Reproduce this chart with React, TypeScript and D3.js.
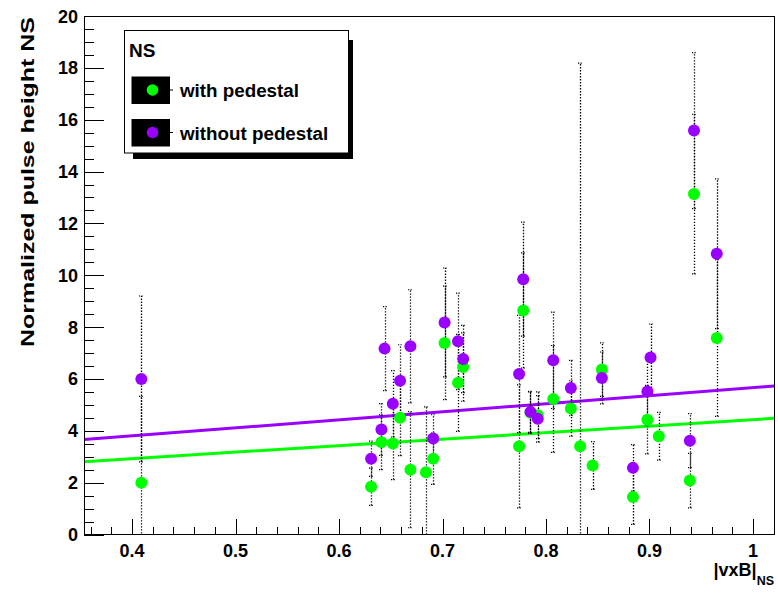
import React from "react";
import * as d3 from "d3";

// ---- data ----
const seriesNames = ["with pedestal", "without pedestal"];
const seriesColors = ["#00ff00", "#9900ff"];

const withPedX = [0.409, 0.631, 0.641, 0.652, 0.659, 0.669, 0.684, 0.691, 0.702, 0.715, 0.720, 0.774, 0.778, 0.785, 0.792, 0.807, 0.824, 0.833, 0.845, 0.854, 0.884, 0.898, 0.909, 0.939, 0.943, 0.965];
const withPedY = [2.0, 1.84, 3.56, 3.51, 4.5, 2.5, 2.4, 2.92, 7.39, 5.85, 6.46, 3.4, 8.64, 4.7, 4.6, 5.23, 4.86, 3.4, 2.66, 6.36, 1.45, 4.43, 3.79, 2.08, 13.13, 7.58];
const withPedErr = [3.33, 0.72, 1.06, 1.39, 1.46, 2.24, 2.52, 0.99, 2.19, 1.87, 1.32, 2.37, 2.22, 0.8, 0.9, 2.06, 1.07, 14.78, 0.92, 1.03, 1.06, 1.32, 0.92, 1.05, 3.08, 3.02];

const noPedX = [0.409, 0.631, 0.641, 0.644, 0.652, 0.659, 0.669, 0.691, 0.702, 0.715, 0.720, 0.774, 0.778, 0.785, 0.792, 0.807, 0.824, 0.854, 0.884, 0.898, 0.901, 0.939, 0.943, 0.965];
const noPedY = [6.0, 2.92, 4.05, 7.17, 5.04, 5.93, 7.26, 3.7, 8.18, 7.45, 6.77, 6.19, 9.85, 4.73, 4.46, 6.72, 5.65, 6.04, 2.57, 5.52, 6.83, 3.62, 15.58, 10.83];
const noPedErr = [3.2, 0.68, 1.0, 1.62, 1.28, 1.39, 2.18, 0.92, 2.1, 1.86, 1.3, 2.26, 2.2, 0.79, 0.9, 1.86, 1.07, 1.0, 0.9, 1.3, 1.29, 1.04, 3.01, 2.89];

// linear fits: value at left and right edge of the x range
const fitWithPed = [2.81, 4.48];
const fitNoPed = [3.66, 5.73];

const xDomain = [0.3536, 1.0203];
const yDomain = [0, 20];
const xTickValues = [0.4, 0.5, 0.6, 0.7, 0.8, 0.9, 1.0];
const xTickLabels = ["0.4", "0.5", "0.6", "0.7", "0.8", "0.9", "1"];
const yTickValues = [0, 2, 4, 6, 8, 10, 12, 14, 16, 18, 20];
const yTickLabels = ["0", "2", "4", "6", "8", "10", "12", "14", "16", "18", "20"];

const legendTitle = "NS";
const yTitle = "Normalized pulse height NS";
const xTitleMain = "|vxB|";
const xTitleSub = "NS";

const FONT = "'Liberation Sans', Arial, Helvetica, sans-serif";

export default function App() {
  const L = 84, R = 774, T = 16, B = 534.5;
  const x = d3.scaleLinear().domain(xDomain).range([L, R]);
  const y = d3.scaleLinear().domain(yDomain).range([B, T]);

  const xMinor = d3.range(0.36, 1.0201, 0.02).filter((v) => v >= xDomain[0] && v <= xDomain[1]);
  const yMinor = d3.range(0, 20.001, 0.5);

  const series = [
    { xs: withPedX, ys: withPedY, es: withPedErr, color: seriesColors[0], fit: fitWithPed },
    { xs: noPedX, ys: noPedY, es: noPedErr, color: seriesColors[1], fit: fitNoPed },
  ];

  const line = d3.line<[number, number]>().x((d) => x(d[0])).y((d) => y(d[1]));
  const dash = "1.3,1.7";

  return (
    <svg width={778} height={594} style={{ position: "absolute", left: 0, top: 0, background: "#fff" }}>
      <rect x={0} y={0} width={778} height={594} fill="#fff" />
      <defs>
        <clipPath id="frame">
          <rect x={L} y={T} width={R - L} height={B - T} />
        </clipPath>
      </defs>

      {/* fit lines */}
      <g clipPath="url(#frame)">
        {series.map((s, i) => (
          <path key={"fit" + i} d={line([[xDomain[0], s.fit[0]], [xDomain[1], s.fit[1]]]) || ""} stroke={s.color} strokeWidth={3} fill="none" />
        ))}
      </g>

      {/* error bars + markers */}
      <g clipPath="url(#frame)">
        {series.map((s, si) => (
          <g key={"s" + si}>
            {s.xs.map((xv, i) => {
              const lo = s.ys[i] - s.es[i];
              const hi = s.ys[i] + s.es[i];
              const cx = Math.round(x(xv)) + 0.5;
              return (
                <g key={i}>
                  <line x1={cx} x2={cx} y1={y(Math.max(lo, -1))} y2={y(Math.min(hi, 21))} stroke="#000" strokeWidth={1.3} strokeDasharray={dash} />
                  <line x1={cx - 2.5} x2={cx + 2.5} y1={y(hi)} y2={y(hi)} stroke="#000" strokeWidth={1.2} strokeDasharray="1.2,1.3" />
                  <line x1={cx - 2.5} x2={cx + 2.5} y1={y(lo)} y2={y(lo)} stroke="#000" strokeWidth={1.2} strokeDasharray="1.2,1.3" />
                </g>
              );
            })}
          </g>
        ))}
        {series.map((s, si) => (
          <g key={"m" + si}>
            {s.xs.map((xv, i) => (
              <circle key={i} cx={x(xv)} cy={y(s.ys[i])} r={6} fill={s.color} />
            ))}
          </g>
        ))}
      </g>

      {/* frame */}
      <rect x={L + 0.5} y={T + 0.5} width={R - L - 0.5} height={B - T - 0.5} fill="none" stroke="#000" strokeWidth={1} shapeRendering="crispEdges" />
      <line x1={L + 0.5} x2={L + 0.5} y1={T} y2={B + 1} stroke="#000" strokeWidth={1.5} shapeRendering="crispEdges" />
      <line x1={L} x2={R} y1={B} y2={B} stroke="#000" strokeWidth={1.5} shapeRendering="crispEdges" />

      {/* ticks */}
      <g shapeRendering="crispEdges" stroke="#000" strokeWidth={1}>
        {xMinor.map((v, i) => (
          <line key={"xm" + i} x1={Math.round(x(v)) + 0.5} x2={Math.round(x(v)) + 0.5} y1={B} y2={B - 8} />
        ))}
        {xTickValues.map((v, i) => (
          <line key={"xM" + i} x1={Math.round(x(v)) + 0.5} x2={Math.round(x(v)) + 0.5} y1={B} y2={B - 16} />
        ))}
        {yMinor.map((v, i) => (
          <line key={"ym" + i} x1={L} x2={L + 10} y1={Math.round(y(v)) + 0.5} y2={Math.round(y(v)) + 0.5} />
        ))}
        {yTickValues.map((v, i) => (
          <line key={"yM" + i} x1={L} x2={L + 20} y1={Math.round(y(v)) + 0.5} y2={Math.round(y(v)) + 0.5} />
        ))}
      </g>

      {/* tick labels */}
      <g fontFamily={FONT} fontWeight="bold" fontSize={18} fill="#000">
        {xTickValues.map((v, i) => (
          <text key={"xl" + i} x={x(v)} y={557} textAnchor="middle">{xTickLabels[i]}</text>
        ))}
        {yTickValues.map((v, i) => (
          <text key={"yl" + i} x={78} y={y(v) + 6.5} textAnchor="end">{yTickLabels[i]}</text>
        ))}
      </g>

      {/* axis titles */}
      <text fontFamily={FONT} fontWeight="bold" fontSize={17.7} transform="translate(34,182) rotate(-90)" textAnchor="middle" textLength={330} lengthAdjust="spacingAndGlyphs">{yTitle}</text>
      <text fontFamily={FONT} fontWeight="bold" fill="#000" x={774} y={576} textAnchor="end">
        <tspan fontSize={18}>{xTitleMain}</tspan>
        <tspan fontSize={12.5} dy={9}>{xTitleSub}</tspan>
      </text>

      {/* legend */}
      <g>
        <rect x={133} y={40} width={220} height={119} fill="#000" />
        <rect x={124.5} y={30.5} width={224} height={122.5} fill="#fff" stroke="#000" strokeWidth={1} />
        <text x={129} y={57} fontFamily={FONT} fontWeight="bold" fontSize={19}>{legendTitle}</text>
        {seriesNames.map((name, i) => {
          const cy = 90 + i * 42.5;
          return (
            <g key={"lg" + i}>
              <rect x={131.5} y={cy - 13.5} width={38.5} height={27.5} fill="#000" />
              <line x1={170} x2={173} y1={cy} y2={cy} stroke="#000" strokeWidth={1} />
              <circle cx={152.5} cy={cy} r={5.8} fill={seriesColors[i]} />
              <text x={180} y={cy + 7} fontFamily={FONT} fontWeight="bold" fontSize={18.8}>{name}</text>
            </g>
          );
        })}
      </g>
    </svg>
  );
}
